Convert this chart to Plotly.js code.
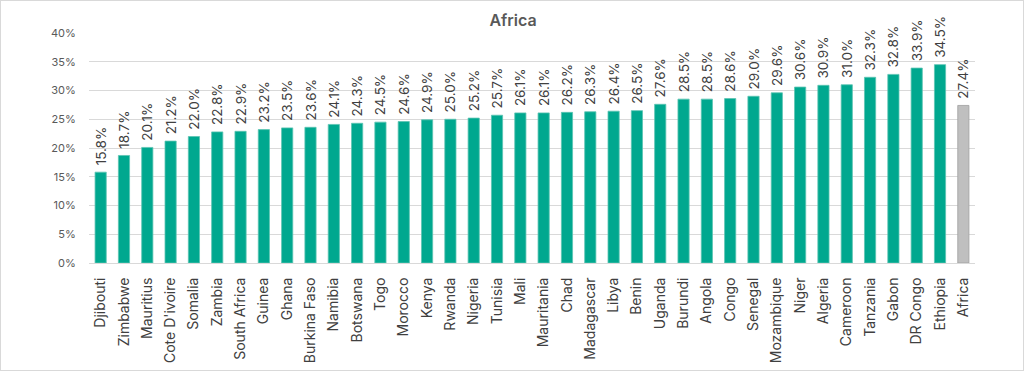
<!DOCTYPE html>
<html>
<head>
<meta charset="utf-8">
<script src="https://cdn.plot.ly/plotly-3.0.1.min.js"></script>
<style>
html,body{margin:0;padding:0;background:#fff;}
#chart{width:1024px;height:371px;box-sizing:border-box;border:1px solid #d9d9d9;}
</style>
</head>
<body>
<div id="chart"></div>
<script>
const countries = ["Djibouti","Zimbabwe","Mauritius","Cote D'ivoire","Somalia","Zambia","South Africa","Guinea","Ghana","Burkina Faso","Namibia","Botswana","Togo","Morocco","Kenya","Rwanda","Nigeria","Tunisia","Mali","Mauritania","Chad","Madagascar","Libya","Benin","Uganda","Burundi","Angola","Congo","Senegal","Mozambique","Niger","Algeria","Cameroon","Tanzania","Gabon","DR Congo","Ethiopia","Africa"];
const shares = [0.158,0.187,0.201,0.212,0.220,0.228,0.229,0.232,0.235,0.236,0.241,0.243,0.245,0.246,0.249,0.250,0.252,0.257,0.261,0.261,0.262,0.263,0.264,0.265,0.276,0.285,0.285,0.286,0.290,0.296,0.306,0.309,0.310,0.323,0.328,0.339,0.345,0.274];
const yTickVals = [0,0.05,0.10,0.15,0.20,0.25,0.30,0.35,0.40];

const fillColors = countries.map(c => c === "Africa" ? "#bfbfbf" : "#00a88f");
const lineColors = countries.map(c => c === "Africa" ? "#a0a0a0" : "#5cc4b2");

const trace = {
  type: "bar",
  x: countries,
  y: shares,
  marker: {color: fillColors, line: {color: lineColors, width: 0.8}},
  text: shares.map(v => " " + (v*100).toFixed(1) + "%"),
  textposition: "outside",
  textangle: -90,
  constraintext: "none",
  cliponaxis: false,
  textfont: {family: "Inter, sans-serif", size: 13.5, color: "#404040"},
  hoverinfo: "none"
};

const layout = {
  width: 1024, height: 371,
  margin: {l: 88, r: 50, t: 32, b: 109, pad: 0},
  paper_bgcolor: "rgba(0,0,0,0)",
  plot_bgcolor: "#fff",
  bargap: 0.52,
  showlegend: false,
  title: {text: "Africa", x: 0.5, xanchor: "center", y: 0.948, yanchor: "middle",
          font: {family: "Inter, sans-serif", size: 16, color: "#595959", weight: 600}},
  xaxis: {
    type: "category",
    tickangle: -90,
    tickfont: {family: "Inter, sans-serif", size: 14, color: "#404040"},
    showline: true, linecolor: "#d9d9d9", linewidth: 1,
    ticks: "outside", ticklen: 8, tickcolor: "rgba(0,0,0,0)",
    showgrid: false, fixedrange: true
  },
  yaxis: {
    range: [0, 0.4],
    tickvals: yTickVals,
    ticktext: yTickVals.map(v => Math.round(v*100) + "%"),
    tickfont: {family: "Inter, sans-serif", size: 11, color: "#595959"},
    showgrid: true, gridcolor: "#d9d9d9", gridwidth: 1,
    zeroline: false, showline: false,
    ticks: "outside", ticklen: 10, tickcolor: "rgba(0,0,0,0)",
    fixedrange: true
  }
};

Plotly.newPlot("chart", [trace], layout, {staticPlot: true, displayModeBar: false});
</script>
</body>
</html>
